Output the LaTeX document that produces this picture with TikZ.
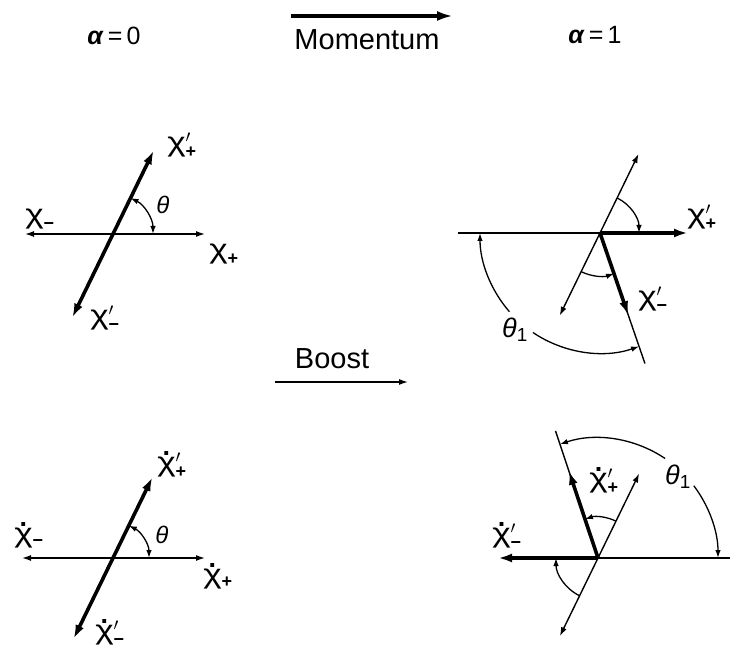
\documentclass[tikz,border=0pt]{standalone}
\usepackage{fontspec}
\setmainfont{Liberation Sans}
\usetikzlibrary{arrows.meta}
\newcommand\chig{\hbox{\scalebox{1.3}[1]{χ}}}
\newcommand\chidot{\hbox{\ooalign{\chig\cr\hfil\raisebox{0.58em}{\bfseries .}\hfil\cr}}}
\newcommand\chilab[3]{$#1#2_{\hbox{\fontsize{18}{18}\selectfont\bfseries #3}}$}
\tikzset{
  tA/.tip={Latex[length=9pt,width=6pt]},
  tB/.tip={Latex[length=14pt,width=9pt]},
  tC/.tip={Latex[length=8pt,width=5.5pt]},
  tM/.tip={Latex[length=16pt,width=10pt]},
  ax/.style={line width=1.4pt},
  bx/.style={line width=3.6pt},
  ac/.style={line width=1.3pt},
  lab/.style={font=\fontsize{27}{30}\selectfont, inner sep=0pt},
  ttl/.style={font=\fontsize{29}{32}\selectfont, inner sep=0pt},
  hdr/.style={font=\fontsize{25}{28}\selectfont, inner sep=0pt},
  th/.style={font=\fontsize{24}{26}\selectfont\itshape, inner sep=0pt},
  thone/.style={font=\fontsize{27}{30}\selectfont, inner sep=0pt}
}
\begin{document}
\begin{tikzpicture}[x=1pt,y=1pt]
\fill[white] (0,0) rectangle (730,653);
\useasboundingbox (0,0) rectangle (730,653);

% ---------- header ----------
\node[hdr] (a0) at (114,617) {\textbf{\textit{α}}\,=\,0};
\node[hdr] (a1) at (595,618) {\textbf{\textit{α}}\,=\,1};
\coordinate (mS) at (291,637);
\coordinate (mE) at (453,637);
\draw[line width=4.5pt,-{tM}] (mS) -- (mE);
\node[ttl] (mom) at (367,613) {Momentum};

% ---------- top left ----------
\coordinate (c1) at (113,419);
\coordinate (c1L) at (25,419);
\coordinate (c1R) at (205,419);
\coordinate (c1U) at ([shift={(64:93)}]c1);
\coordinate (c1D) at ([shift={(244:93)}]c1);
\draw[ax,{tA}-{tA}] (c1L) -- (c1R);
\draw[bx,{tB}-{tB}] (c1D) -- (c1U);
\coordinate (c1a) at ([shift={(0:40)}]c1);
\draw[ac,{tC}-{tC}] (c1a) arc[start angle=0,end angle=64,radius=40];
\node[lab] (l1) at (182,508) {\chilab{\chig}{'}{+}};
\node[lab] (l2) at (40,434) {\chilab{\chig}{}{−}};
\node[lab] (l3) at (224,399) {\chilab{\chig}{}{+}};
\node[lab] (l4) at (105,335) {\chilab{\chig}{'}{−}};
\node[th] (t1) at (163,448) {θ};

% ---------- top right ----------
\coordinate (c2) at (600,420);
\coordinate (c2L) at (458,420);
\coordinate (c2R) at (688,420);
\coordinate (c2U) at ([shift={(64:88)}]c2);
\coordinate (c2D) at ([shift={(244:92)}]c2);
\coordinate (c2T) at ([shift={(289:87)}]c2);
\coordinate (c2E) at ([shift={(289:138)}]c2);
\draw[ax] (c2L) -- (c2);
\draw[ax] (c2) -- (c2E);
\draw[ax,{tA}-{tA}] (c2D) -- (c2U);
\draw[bx,-{tB}] (c2) -- (c2R);
\draw[bx,-{tB}] (c2) -- (c2T);
\coordinate (c2a) at ([shift={(64:39)}]c2);
\draw[ac,-{tC}] (c2a) arc[start angle=64,end angle=0,radius=39];
\coordinate (c2b) at ([shift={(244:43)}]c2);
\draw[ac,-{tC}] (c2b) arc[start angle=244,end angle=289,radius=43];
\coordinate (c2c) at ([shift={(221:120)}]c2);
\draw[ac,-{tC}] (c2c) arc[start angle=221,end angle=180,radius=120];
\coordinate (c2d) at ([shift={(236:120)}]c2);
\draw[ac,-{tC}] (c2d) arc[start angle=236,end angle=289,radius=120];
\node[lab] (l5) at (702,436) {\chilab{\chig}{'}{+}};
\node[lab] (l6) at (653,354) {\chilab{\chig}{'}{−}};
\node[thone] (t2) at (515,323) {\textit{θ}\textsubscript{1}};

% ---------- boost ----------
\coordinate (bS) at (275,271);
\coordinate (bE) at (408,271);
\draw[ax,-{tA}] (bS) -- (bE);
\node[ttl] (boost) at (332,294) {Boost};

% ---------- bottom left ----------
\coordinate (c3) at (113,95);
\coordinate (c3L) at (22,95);
\coordinate (c3R) at (205,95);
\coordinate (c3U) at ([shift={(64:90)}]c3);
\coordinate (c3D) at ([shift={(244:90)}]c3);
\draw[ax,{tA}-{tA}] (c3L) -- (c3R);
\draw[bx,{tB}-{tB}] (c3D) -- (c3U);
\coordinate (c3a) at ([shift={(0:36)}]c3);
\draw[ac,{tC}-{tC}] (c3a) arc[start angle=0,end angle=64,radius=36];
\node[lab] (l7) at (172,188) {\chilab{\chidot}{'}{+}};
\node[lab] (l8) at (29,116) {\chilab{\chidot}{}{−}};
\node[lab] (l9) at (218,75) {\chilab{\chidot}{}{+}};
\node[lab] (l10) at (110,20) {\chilab{\chidot}{'}{−}};
\node[th] (t3) at (162,118) {θ};

% ---------- bottom right ----------
\coordinate (c4) at (598,95);
\coordinate (c4L) at (498,95);
\coordinate (c4R) at (730,95);
\coordinate (c4U) at ([shift={(64:94)}]c4);
\coordinate (c4D) at ([shift={(244:87)}]c4);
\coordinate (c4T) at ([shift={(108.5:92)}]c4);
\coordinate (c4E) at ([shift={(108.5:134)}]c4);
\draw[ax] (c4) -- (c4R);
\draw[ax] (c4) -- (c4E);
\draw[ax,{tA}-{tA}] (c4D) -- (c4U);
\draw[bx,-{tB}] (c4) -- (c4L);
\draw[bx,-{tB}] (c4) -- (c4T);
\coordinate (c4a) at ([shift={(64:41)}]c4);
\draw[ac,-{tC}] (c4a) arc[start angle=64,end angle=108.5,radius=41];
\coordinate (c4b) at ([shift={(244:42)}]c4);
\draw[ac,-{tC}] (c4b) arc[start angle=244,end angle=180,radius=42];
\coordinate (c4c) at ([shift={(37:120)}]c4);
\draw[ac,-{tC}] (c4c) arc[start angle=37,end angle=0,radius=120];
\coordinate (c4d) at ([shift={(56:120)}]c4);
\draw[ac,-{tC}] (c4d) arc[start angle=56,end angle=108.5,radius=120];
\node[lab] (l11) at (604,172) {\chilab{\chidot}{'}{+}};
\node[lab] (l12) at (507,117) {\chilab{\chidot}{'}{−}};
\node[thone] (t4) at (678,176) {\textit{θ}\textsubscript{1}};
\end{tikzpicture}
\end{document}
